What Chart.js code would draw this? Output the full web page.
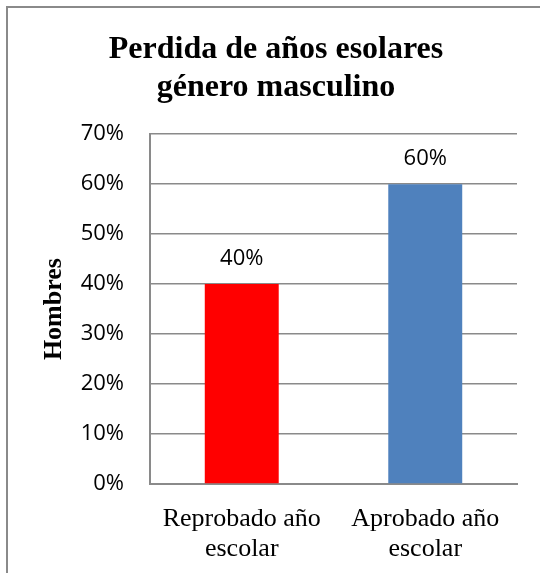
<!DOCTYPE html>
<html>
<head>
<meta charset="utf-8">
<script src="https://cdn.jsdelivr.net/npm/chart.js@4/dist/chart.umd.min.js"></script>
<style>
html,body{margin:0;padding:0;background:#fff;}
#wrap{position:relative;width:540px;height:573px;}
canvas{display:block;}
</style>
</head>
<body>
<div id="wrap"><canvas id="c" width="540" height="573"></canvas></div>
<script>
const categories = [["Reprobado año", "escolar"], ["Aprobado año", "escolar"]];
const values = [40, 60];
const barColors = ["#ff0000", "#4f81bd"];
const dataLabels = ["40%", "60%"];
const titleLines = ["Perdida de años esolares", "género masculino"];
const yAxisTitle = "Hombres";

const frame = {
  id: 'frame',
  beforeDraw(chart) {
    const ctx = chart.ctx;
    ctx.save();
    ctx.fillStyle = '#fff';
    ctx.fillRect(0, 0, chart.width, chart.height);
    ctx.strokeStyle = '#8a8a8a';
    ctx.lineWidth = 2;
    ctx.beginPath();
    ctx.moveTo(7, chart.height);
    ctx.lineTo(7, 7);
    ctx.lineTo(chart.width, 7);
    ctx.stroke();
    ctx.restore();
  }
};

const labelsPlugin = {
  id: 'barLabels',
  afterDatasetsDraw(chart) {
    const ctx = chart.ctx;
    const meta = chart.getDatasetMeta(0);
    ctx.save();
    ctx.font = '22px "Open Sans"';
    ctx.fillStyle = '#000';
    ctx.textAlign = 'center';
    ctx.textBaseline = 'alphabetic';
    meta.data.forEach((bar, i) => {
      ctx.fillText(dataLabels[i], bar.x, bar.y - 19);
    });
    ctx.restore();
  }
};

new Chart(document.getElementById('c'), {
  type: 'bar',
  data: {
    labels: categories,
    datasets: [{
      data: values,
      backgroundColor: barColors,
      borderWidth: 0,
      categoryPercentage: 1,
      barPercentage: 0.403
    }]
  },
  options: {
    responsive: false,
    animation: false,
    devicePixelRatio: 1,
    layout: { padding: { left: 35, right: 23, top: 0, bottom: 0 } },
    plugins: {
      legend: { display: false },
      tooltip: { enabled: false },
      title: {
        display: true,
        text: titleLines,
        color: '#000',
        font: { family: '"Liberation Serif"', size: 32, weight: 'bold', lineHeight: 1.19 },
        padding: { top: 31, bottom: 27 }
      }
    },
    scales: {
      x: {
        grid: { display: false, drawTicks: false },
        border: { display: true, color: '#8a8a8a', width: 2 },
        ticks: {
          color: '#000',
          font: { family: '"Liberation Serif"', size: 26, lineHeight: 1.15 },
          padding: 20,
          maxRotation: 0,
          autoSkip: false
        },
        afterFit(scale) { scale.height = 89; }
      },
      y: {
        min: 0,
        max: 70,
        ticks: {
          stepSize: 10,
          color: '#000',
          font: { family: '"Open Sans"', size: 22 },
          padding: 26,
          callback: v => v + '%'
        },
        grid: { color: '#8a8a8a', lineWidth: 1.5, drawTicks: false },
        border: { display: true, color: '#8a8a8a', width: 2 },
        title: {
          display: true,
          text: yAxisTitle,
          color: '#000',
          font: { family: '"Liberation Serif"', size: 26, weight: 'bold', lineHeight: 1.2 },
          padding: { top: 4, bottom: 0 }
        },
        afterFit(scale) { scale.width = 115; }
      }
    }
  },
  plugins: [frame, labelsPlugin]
});
</script>
</body>
</html>
